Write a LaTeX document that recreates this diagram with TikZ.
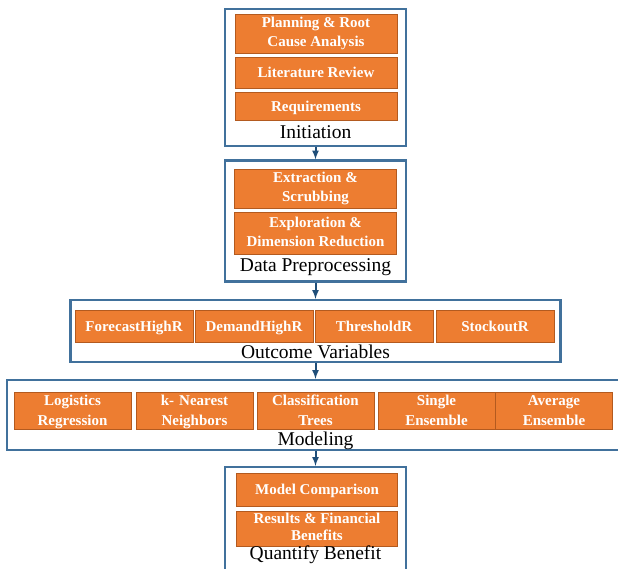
\documentclass[tikz,border=0pt]{standalone}
\usepackage{fontspec}
\setmainfont{Liberation Serif}
\definecolor{stageblue}{HTML}{41719C}
\definecolor{arrowblue}{HTML}{1F4E79}
\definecolor{taskorange}{HTML}{ED7D31}
\definecolor{taskedge}{HTML}{B35A1F}

\begin{document}
\begin{tikzpicture}[x=1pt,y=-1pt,
  stage/.style={draw=stageblue,line width=2.2pt,fill=white,inner sep=0pt},
  task/.style={draw=taskedge,line width=0.6pt,fill=taskorange,text=white,inner sep=0pt,
    align=center,font=\fontsize{15}{19}\selectfont\bfseries,
    execute at begin node={\rule{0pt}{14pt}},execute at end node={\vphantom{g}}},
  method/.style={task,minimum width=117pt,minimum height=35pt,text width=115pt,
    font=\fontsize{15}{20}\selectfont\bfseries},
  lbl/.style={font=\fontsize{19.5}{20}\selectfont,inner sep=0pt}]
\useasboundingbox (0,0) rectangle (618,568);
% stage frames
\node[stage,minimum width=181pt,minimum height=137pt] (init) at (315.5,77.5) {};
\node[stage,minimum width=181pt,minimum height=121pt] (prep) at (315.5,221) {};
\node[stage,minimum width=490pt,minimum height=62pt] (outc) at (315.5,331) {};
\node[stage,minimum width=617pt,minimum height=70pt] (model) at (315.5,415) {};
\node[stage,minimum width=181pt,minimum height=110pt] (quant) at (315.5,522) {};
\foreach \a/\b in {init/prep,prep/outc,outc/model,model/quant}
{\draw[-latex,arrowblue,line width=2pt] (\a.south) -- (\b.north);}
% Initiation
\node[task,minimum width=162pt,minimum height=39pt] (plan) at (316,33.5) {Planning \& Root\\Cause Analysis};
\node[task,minimum width=162pt,minimum height=31pt] (lit) at (316,72.5) {Literature Review};
\node[task,minimum width=162pt,minimum height=28pt] (req) at (316,106) {Requirements};
\node[lbl] (initlbl) at (315.5,132) {Initiation};
% Data Preprocessing
\node[task,minimum width=162pt,minimum height=39pt] (extr) at (315.5,188.5) {Extraction \&\\Scrubbing};
\node[task,minimum width=162pt,minimum height=42pt] (expl) at (315.5,233) {Exploration \&\\Dimension Reduction};
\node[lbl] (preplbl) at (315.5,267) {Data Preprocessing};
% Outcome Variables
\foreach \X/\T [count=\i] in {134/ForecastHighR,254/DemandHighR,374/ThresholdR,495/StockoutR}
{\node[task,minimum width=118pt,minimum height=32pt] (ov\i) at (\X,326) {\T};}
\node[lbl] (outclbl) at (315.5,352) {Outcome Variables};
% Modeling
\node[method] (logreg) at (72.5,410.5) {Logistics\\Regression};
\node[method] (knn) at (194.5,410.5) {k- Nearest\\Neighbors};
\node[method] (ctree) at (315.5,410.5) {Classification\\Trees};
\node[method] (single) at (436.5,410.5) {Single\\Ensemble};
\node[method] (avg) at (554,410.5) {Average\\Ensemble};
\node[lbl] (modellbl) at (315.5,441) {Modeling};
% Quantify Benefit
\node[task,minimum width=161pt,minimum height=33pt] (comp) at (317,489.5) {Model Comparison};
\node[task,minimum width=161pt,minimum height=35pt,font=\fontsize{15}{17}\selectfont\bfseries] (res) at (317,528.5) {Results \& Financial\\Benefits};
\node[lbl] (quantlbl) at (315.5,555) {Quantify Benefit};
\end{tikzpicture}
\end{document}
